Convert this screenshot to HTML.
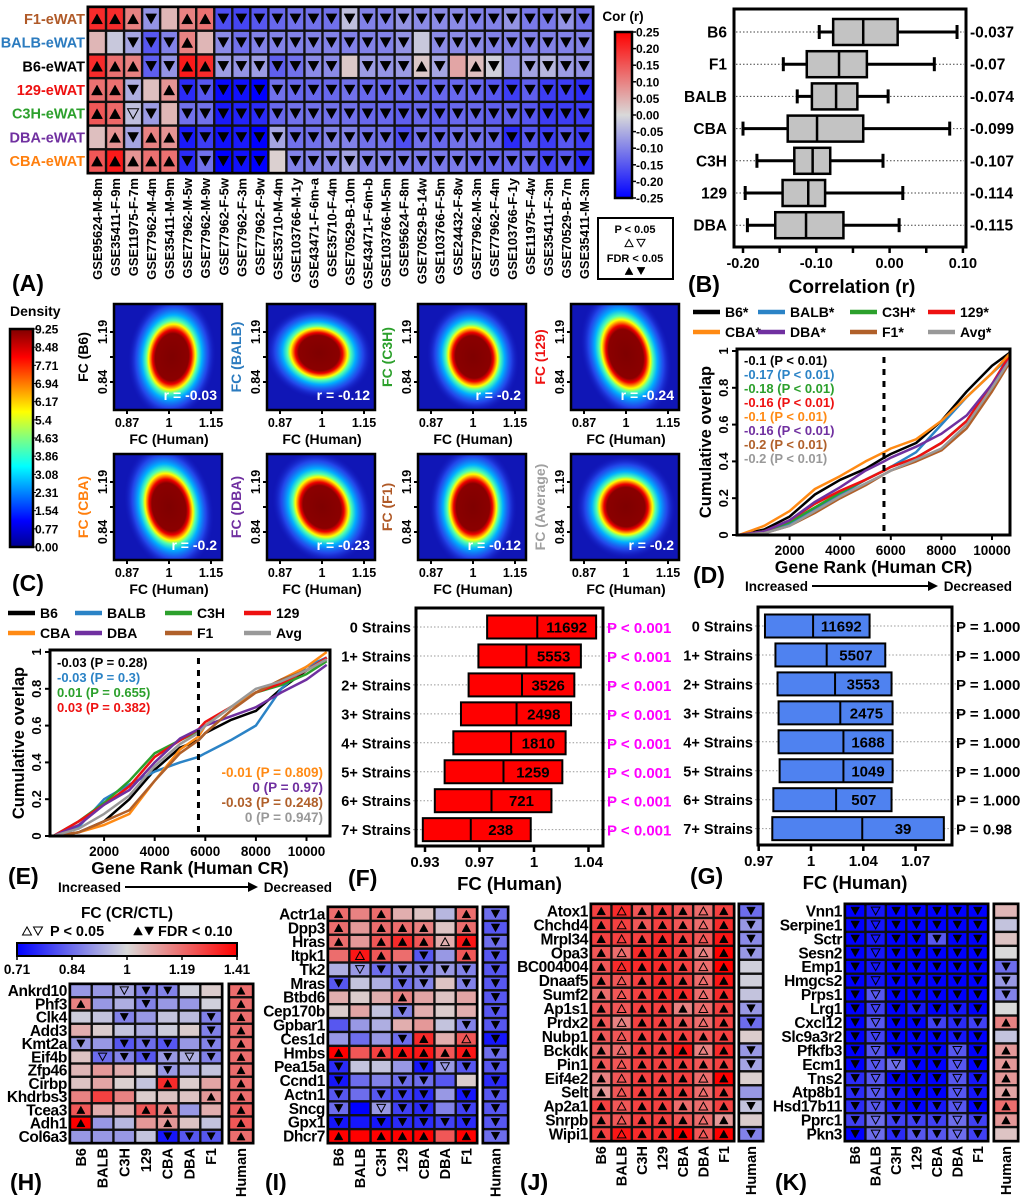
<!DOCTYPE html>
<html><head><meta charset="utf-8"><style>
html,body{margin:0;padding:0;background:#fff}
svg{display:block;font-family:"Liberation Sans",Arial,sans-serif;font-weight:bold}
</style></head><body>
<svg id="fig" width="1020" height="1202" viewBox="0 0 1020 1202" xmlns="http://www.w3.org/2000/svg">
<defs>
<linearGradient id="gCor" x1="0" y1="0" x2="0" y2="1"><stop offset="0" stop-color="#ff0000"/><stop offset="0.5" stop-color="#d9d9d9"/><stop offset="1" stop-color="#0000ff"/></linearGradient>
<linearGradient id="gFC" x1="0" y1="0" x2="1" y2="0"><stop offset="0" stop-color="#0000ff"/><stop offset="0.5" stop-color="#d9d9d9"/><stop offset="1" stop-color="#ff0000"/></linearGradient>
<linearGradient id="gJet" x1="0" y1="1" x2="0" y2="0"><stop offset="0" stop-color="#00008f"/><stop offset="0.12" stop-color="#0000ff"/><stop offset="0.37" stop-color="#00ffff"/><stop offset="0.5" stop-color="#80ff80"/><stop offset="0.62" stop-color="#ffff00"/><stop offset="0.87" stop-color="#ff0000"/><stop offset="1" stop-color="#800000"/></linearGradient>
<radialGradient id="gDen" cx="0.5" cy="0.5" r="0.5"><stop offset="0" stop-color="#7f0000"/><stop offset="0.38" stop-color="#8b0000"/><stop offset="0.44" stop-color="#ee0000"/><stop offset="0.49" stop-color="#ff8c00"/><stop offset="0.53" stop-color="#ffff00"/><stop offset="0.59" stop-color="#50ffb0"/><stop offset="0.68" stop-color="#00b0ff"/><stop offset="0.82" stop-color="#2a5aff" stop-opacity="0.7"/><stop offset="1" stop-color="#1414c0" stop-opacity="0"/></radialGradient>
</defs>
</svg>
<script>
// ---------- DATA ----------
const aRows=["F1-eWAT","BALB-eWAT","B6-eWAT","129-eWAT","C3H-eWAT","DBA-eWAT","CBA-eWAT"];
const aRowColors=["#b05a28","#2b7bbf","#000000","#ee1111","#2ca02c","#7030a0","#ff7f0e"];
const aCols=["GSE95624-M-8m","GSE35411-F-9m","GSE11975-F-7m","GSE77962-M-4m","GSE35411-M-9m","GSE77962-M-5w","GSE77962-M-9w","GSE77962-F-5w","GSE77962-F-3m","GSE77962-F-9w","GSE35710-M-4m","GSE103766-M-1y","GSE43471-F-6m-a","GSE35710-F-4m","GSE70529-B-10m","GSE43471-F-6m-b","GSE103766-M-5m","GSE95624-F-8m","GSE70529-B-14w","GSE103766-F-5m","GSE24432-F-8w","GSE77962-M-3m","GSE77962-F-4m","GSE103766-F-1y","GSE11975-F-4w","GSE35411-F-3m","GSE70529-B-7m","GSE35411-M-3m"];
const aVals=[
[0.2,0.2,0.1,-0.08,0.04,0.1,0.12,-0.16,-0.17,-0.15,-0.13,-0.12,-0.12,-0.12,-0.03,-0.1,-0.1,-0.08,-0.09,-0.09,-0.09,-0.1,-0.1,-0.08,-0.11,-0.11,-0.08,-0.12],
[0.04,-0.02,-0.06,-0.15,-0.1,0.1,0.04,-0.09,-0.12,-0.1,-0.1,-0.1,-0.1,-0.1,-0.1,-0.1,-0.1,-0.08,-0.02,-0.09,-0.09,-0.09,-0.1,-0.1,-0.1,-0.1,-0.1,-0.1],
[0.2,0.12,0.1,-0.14,-0.08,0.22,0.2,-0.07,-0.08,-0.07,-0.14,-0.12,-0.09,-0.09,0.02,-0.07,-0.08,-0.07,0.02,-0.06,0.06,0.03,-0.01,-0.07,-0.06,-0.04,-0.07,-0.08],
[0.12,0.12,-0.05,0.03,0.08,-0.2,-0.15,-0.24,-0.23,-0.25,-0.12,-0.13,-0.13,-0.13,-0.12,-0.13,-0.13,-0.13,-0.13,-0.13,-0.13,-0.13,-0.15,-0.18,-0.14,-0.18,-0.18,-0.2],
[0.15,0.13,-0.03,-0.07,0.04,-0.12,-0.12,-0.22,-0.21,-0.2,-0.13,-0.12,-0.12,-0.12,-0.12,-0.13,-0.13,-0.14,-0.13,-0.14,-0.13,-0.13,-0.14,-0.14,-0.15,-0.18,-0.18,-0.18],
[0.03,0.08,-0.06,0.1,0.08,-0.22,-0.18,-0.23,-0.22,-0.25,-0.06,-0.12,-0.12,-0.1,-0.1,-0.12,-0.12,-0.16,-0.12,-0.13,-0.12,-0.12,-0.13,-0.2,-0.15,-0.18,-0.15,-0.18],
[0.15,0.22,0.08,0.12,0.12,-0.2,-0.12,-0.25,-0.23,-0.25,0.01,-0.1,-0.1,-0.09,-0.06,-0.1,-0.1,-0.11,-0.11,-0.11,-0.11,-0.12,-0.13,-0.13,-0.13,-0.17,-0.15,-0.2]];
const aSig=["2222022222222222222222222222","0022220222222222220222222222","2222222222222202222202202222","2220222222222222222222222222","2212022222222222222222222222","0222222222222222222222222222","2222222222022222222222222222"];
const corTicks=["0.25","0.20","0.15","0.10","0.05","0.00","-0.05","-0.10","-0.15","-0.20","-0.25"];

const bStrains=["B6","F1","BALB","CBA","C3H","129","DBA"];
const bMeans=["-0.037","-0.07","-0.074","-0.099","-0.107","-0.114","-0.115"];
const bWlo=[-0.096,-0.145,-0.126,-0.2,-0.181,-0.197,-0.194];
const bQ1=[-0.077,-0.113,-0.106,-0.139,-0.13,-0.146,-0.156];
const bMed=[-0.036,-0.069,-0.073,-0.099,-0.105,-0.111,-0.114];
const bQ3=[0.011,-0.031,-0.044,-0.036,-0.081,-0.088,-0.063];
const bWhi=[0.092,0.061,-0.002,0.082,-0.009,0.018,0.013];
const bTicks=[-0.2,-0.1,0,0.1];
const bTickLabels=["-0.20","-0.10","0.00","0.10"];

const denNames=["B6","BALB","C3H","129","CBA","DBA","F1","Average"];
const denColors=["#000","#2b7bbf","#2ca02c","#ee1111","#ff7f0e","#7030a0","#b05a28","#a0a0a0"];
const denR=["-0.03","-0.12","-0.2","-0.24","-0.2","-0.23","-0.12","-0.2"];
const denTicks=["9.25","8.48","7.71","6.94","6.17","5.4","4.63","3.86","3.08","2.31","1.54","0.77","0.00"];

const seriesNames=["B6","BALB","C3H","129","CBA","DBA","F1","Avg"];
const seriesColors=["#000000","#2b83c6","#2ca02c","#ee1111","#ff8a14","#7030a0","#b0602a","#999999"];
const ranks=[0,1000,2000,3000,4000,5000,5730,6000,7000,8000,9000,10000,10800];
const dB6=[0,0.03,0.1,0.22,0.3,0.36,0.42,0.44,0.5,0.62,0.78,0.92,1];
const dBALB=[0,0.01,0.06,0.14,0.22,0.3,0.35,0.37,0.45,0.6,0.75,0.88,0.98];
const dC3H=[0,0.02,0.07,0.15,0.23,0.3,0.35,0.37,0.42,0.5,0.62,0.82,0.95];
const d129=[0,0.02,0.08,0.17,0.24,0.3,0.35,0.37,0.42,0.5,0.62,0.82,1];
const dCBA=[0,0.05,0.13,0.25,0.32,0.4,0.45,0.47,0.52,0.62,0.75,0.88,1];
const dDBA=[0,0.02,0.08,0.18,0.26,0.35,0.4,0.42,0.48,0.55,0.65,0.82,0.97];
const dF1=[0,0.01,0.05,0.12,0.2,0.27,0.33,0.35,0.4,0.46,0.58,0.78,0.96];
const dAvg=[0,0.01,0.05,0.13,0.21,0.28,0.33,0.35,0.41,0.47,0.6,0.8,0.97];
const dLabels=["-0.1 (P < 0.01)","-0.17 (P < 0.01)","-0.18 (P < 0.01)","-0.16 (P < 0.01)","-0.1 (P < 0.01)","-0.16 (P < 0.01)","-0.2 (P < 0.01)","-0.2 (P < 0.01)"];
const eB6=[0,0.02,0.08,0.2,0.36,0.48,0.52,0.56,0.63,0.68,0.8,0.9,0.97];
const eBALB=[0,0.05,0.2,0.28,0.35,0.4,0.43,0.45,0.52,0.6,0.8,0.92,0.97];
const eC3H=[0,0.08,0.18,0.3,0.45,0.52,0.57,0.6,0.7,0.78,0.82,0.88,0.95];
const e129=[0,0.08,0.17,0.27,0.43,0.52,0.58,0.62,0.7,0.78,0.83,0.9,0.97];
const eCBA=[0,0.02,0.06,0.12,0.3,0.47,0.54,0.6,0.7,0.78,0.85,0.92,1];
const eDBA=[0,0.06,0.17,0.25,0.4,0.53,0.58,0.6,0.65,0.7,0.78,0.85,0.93];
const eF1=[0,0.02,0.08,0.14,0.3,0.45,0.52,0.56,0.68,0.78,0.85,0.9,0.96];
const eAvg=[0,0.04,0.12,0.22,0.38,0.5,0.56,0.6,0.7,0.8,0.84,0.9,0.96];
const eLabels=["-0.03 (P = 0.28)","-0.03 (P = 0.3)","0.01 (P = 0.655)","0.03 (P = 0.382)","-0.01 (P = 0.809)","0 (P = 0.97)","-0.03 (P = 0.248)","0 (P = 0.947)"];
const cutRank=5730;
const rankTicks=[2000,4000,6000,8000,10000];
const overlapTicks=[0,0.2,0.4,0.6,0.8,1];

const fgRows=["0 Strains","1+ Strains","2+ Strains","3+ Strains","4+ Strains","5+ Strains","6+ Strains","7+ Strains"];
const fLo=[-0.043,-0.051,-0.06,-0.067,-0.074,-0.082,-0.091,-0.102];
const fMed=[0.003,-0.007,-0.011,-0.016,-0.021,-0.028,-0.039,-0.058];
const fHi=[0.057,0.043,0.037,0.034,0.029,0.026,0.016,-0.003];
const fN=["11692","5553","3526","2498","1810","1259","721","238"];
const fP=["P < 0.001","P < 0.001","P < 0.001","P < 0.001","P < 0.001","P < 0.001","P < 0.001","P < 0.001"];
const fTicks=[-0.1,-0.05,0,0.05];
const fTickLabels=["0.93","0.97","1","1.04"];
const gLo=[-0.044,-0.034,-0.032,-0.031,-0.031,-0.03,-0.036,-0.037];
const gMed=[0.002,0.015,0.023,0.028,0.031,0.031,0.024,0.049];
const gHi=[0.056,0.071,0.077,0.078,0.078,0.078,0.077,0.127];
const gN=["11692","5507","3553","2475","1688","1049","507","39"];
const gP=["P = 1.000","P = 1.000","P = 1.000","P = 1.000","P = 1.000","P = 1.000","P = 1.000","P = 0.98"];
const gTicks=[-0.05,0,0.05,0.1];
const gTickLabels=["0.97","1","1.04","1.07"];

const strainCols=["B6","BALB","C3H","129","CBA","DBA","F1"];
const hGenes=["Ankrd10","Phf3","Clk4","Add3","Kmt2a","Eif4b","Zfp46","Cirbp","Khdrbs3","Tcea3","Adh1","Col6a3"];
const hVals=[[-0.15,-0.15,-0.12,-0.2,-0.2,-0.02,0.03],[0.2,-0.15,-0.1,-0.2,-0.15,-0.15,-0.02],[-0.03,-0.05,-0.2,-0.15,-0.05,-0.07,-0.2],[0.1,0.03,-0.05,-0.1,-0.03,0.03,-0.2],[-0.15,-0.15,-0.3,-0.25,-0.3,-0.15,-0.2],[0.05,-0.25,-0.2,-0.3,-0.15,-0.1,-0.2],[0.08,0.15,0.1,0.02,-0.15,-0.1,-0.05],[0.05,0.12,0.02,-0.05,0.4,0.03,0.12],[0.2,0.35,0.2,0.03,0.05,0.05,0.15],[0.3,0.1,0.1,0.3,0.2,-0.15,0.1],[0.5,-0.15,-0.08,0.15,0.15,0.05,-0.05],[-0.15,-0.15,-0.15,-0.05,-0.45,-0.3,-0.3]];
const hSig=["0012200","2002000","0020002","0000002","2022202","0122212","0000200","0000200","0000002","2002200","2000200","0000222"];
const hHuman=[0.25,0.25,0.25,0.25,0.25,0.25,0.25,0.25,0.25,0.28,0.3,0.25];
const hHumanSig="222222222222";
const iGenes=["Actr1a","Dpp3","Hras","Itpk1","Tk2","Mras","Btbd6","Cep170b","Gpbar1","Ces1d","Hmbs","Pea15a","Ccnd1","Actn1","Sncg","Gpx1","Dhcr7"];
const iVals=[[0.25,0.2,0.25,0.1,0.05,-0.08,0.25],[0.25,0.15,0.25,0.25,0.2,0.05,0.25],[0.25,0.15,0.3,0.4,0.3,0.1,0.45],[0.25,0.45,0.3,0.25,-0.3,-0.15,0.3],[-0.1,-0.15,-0.25,-0.2,-0.2,-0.15,-0.2],[-0.3,-0.05,-0.1,-0.25,-0.2,0.05,-0.2],[0.1,0.03,0.1,0.2,0.12,0.05,0.12],[0.03,0.12,-0.05,-0.2,0.1,0.03,0.1],[-0.3,-0.15,-0.1,0.1,0.15,-0.05,-0.2],[-0.15,-0.25,-0.15,-0.25,0.4,0.1,0.3],[0.5,0.3,0.35,0.45,0.45,0.3,0.45],[-0.4,-0.05,-0.05,-0.15,-0.45,-0.15,-0.3],[-0.45,-0.25,-0.2,-0.25,-0.25,-0.3,0.03],[-0.3,-0.25,-0.3,-0.35,-0.4,-0.15,-0.45],[-0.25,-0.5,-0.15,-0.35,-0.4,-0.2,-0.35],[-0.45,-0.45,-0.45,-0.4,-0.4,-0.35,-0.4],[0.5,0.5,0.5,0.5,0.5,0.3,0.5]];
const iSig=["2020002","2022202","2022212","0120202","0122222","2002202","0002000","0002000","0000002","0002201","2022222","2000212","2002200","2022202","2012202","2022222","2022202"];
const iHuman=[-0.25,-0.3,-0.25,-0.3,-0.3,-0.3,-0.3,-0.3,-0.3,-0.45,-0.25,-0.3,-0.4,-0.3,-0.3,-0.3,-0.25];
const iHumanSig="22222222222222222";
const jGenes=["Atox1","Chchd4","Mrpl34","Opa3","BC004004","Dnaaf5","Sumf2","Ap1s1","Prdx2","Nubp1","Bckdk","Pin1","Eif4e2","Selt","Ap2a1","Snrpb","Wipi1"];
const jVals=[[0.35,0.4,0.3,0.35,0.3,0.25,0.35],[0.35,0.35,0.3,0.35,0.3,0.25,0.4],[0.35,0.35,0.35,0.4,0.35,0.3,0.45],[0.3,0.25,0.4,0.4,0.35,0.2,0.5],[0.3,0.4,0.4,0.4,0.35,0.25,0.5],[0.3,0.3,0.35,0.4,0.35,0.25,0.45],[0.25,0.3,0.35,0.4,0.4,0.25,0.4],[0.3,0.3,0.35,0.35,0.2,0.25,0.35],[0.3,0.2,0.35,0.35,0.3,0.25,0.35],[0.3,0.3,0.35,0.35,0.35,0.3,0.35],[0.25,0.25,0.35,0.35,0.45,0.2,0.4],[0.3,0.3,0.35,0.35,0.35,0.3,0.35],[0.2,0.3,0.35,0.35,0.35,0.25,0.5],[0.15,0.3,0.35,0.35,0.35,0.25,0.35],[0.35,0.3,0.35,0.35,0.25,0.25,0.35],[0.3,0.3,0.35,0.35,0.3,0.25,0.15],[0.35,0.45,0.4,0.4,0.5,0.3,0.5]];
const jSig=["2122212","2122212","2122212","2122212","2122212","2122212","2122212","2122212","2122212","2122222","2122212","2122222","2122212","2122212","2122212","2122212","2122212"];
const jHuman=[-0.25,-0.15,-0.18,-0.15,-0.02,-0.02,-0.05,-0.15,-0.25,0.03,-0.15,-0.12,0.02,-0.15,-0.05,0.03,-0.2];
const jHumanSig="22220002202200202";
const kGenes=["Vnn1","Serpine1","Sctr","Sesn2","Emp1","Hmgcs2","Prps1","Lrg1","Cxcl12","Slc9a3r2","Pfkfb3","Ecm1","Tns2","Atp8b1","Hsd17b11","Pprc1","Pkn3"];
const kVals=[[-0.5,-0.45,-0.5,-0.5,-0.5,-0.5,-0.5],[-0.5,-0.45,-0.5,-0.5,-0.5,-0.5,-0.5],[-0.5,-0.45,-0.5,-0.5,-0.3,-0.5,-0.5],[-0.5,-0.45,-0.5,-0.5,-0.5,-0.5,-0.5],[-0.5,-0.45,-0.5,-0.5,-0.5,-0.5,-0.5],[-0.5,-0.45,-0.5,-0.5,-0.5,-0.5,-0.5],[-0.5,-0.3,-0.5,-0.5,-0.5,-0.5,-0.5],[-0.5,-0.35,-0.5,-0.45,-0.5,-0.45,-0.5],[-0.5,-0.3,-0.5,-0.5,-0.35,-0.4,-0.35],[-0.5,-0.35,-0.5,-0.5,-0.5,-0.45,-0.5],[-0.5,-0.3,-0.5,-0.5,-0.5,-0.3,-0.5],[-0.5,-0.3,-0.25,-0.5,-0.5,-0.3,-0.5],[-0.4,-0.3,-0.5,-0.5,-0.5,-0.3,-0.45],[-0.4,-0.3,-0.45,-0.5,-0.5,-0.3,-0.45],[-0.4,-0.3,-0.45,-0.5,-0.45,-0.3,-0.5],[-0.35,-0.25,-0.35,-0.35,-0.35,-0.25,-0.35],[-0.5,-0.25,-0.4,-0.3,-0.3,-0.25,-0.35]];
const kSig=["2122222","2122222","2122222","2122222","2122222","2122222","2122222","2122222","2122222","2122222","2122212","2112212","2122212","2122212","2122212","2122212","2122212"];
const kHuman=[0.08,-0.05,0.05,0,-0.25,-0.15,-0.2,0,0.2,-0.05,0.15,0.15,0.15,0.12,0.25,0.15,0.05];
const kHumanSig="00002220202222220";
const fcTicks=["0.71","0.84","1","1.19","1.41"];

// ---------- HELPERS ----------
const NS="http://www.w3.org/2000/svg";
const svg=document.getElementById('fig');
function mk(tag,attrs,parent){const e=document.createElementNS(NS,tag);for(const k in attrs)e.setAttribute(k,attrs[k]);(parent||svg).appendChild(e);return e;}
function txt(s,x,y,size,attrs,parent){const e=mk('text',Object.assign({x:x,y:y,'font-size':size},attrs||{}),parent);e.textContent=s;return e;}
function grp(name){const g=mk('g',{});return g;}
function divColor(v,lim){let t=Math.max(-1,Math.min(1,v/lim));const g=[217,217,217];let c;
 if(t<0){t=-t;c=[g[0]*(1-t),g[1]*(1-t),g[2]*(1-t)+255*t];}else{c=[g[0]*(1-t)+255*t,g[1]*(1-t),g[2]*(1-t)];}
 return 'rgb('+c.map(Math.round).join(',')+')';}
function tri(cx,cy,s,up,filled,parent){const h=s*0.9;const pts=up?[[cx-s/2,cy+h/2],[cx+s/2,cy+h/2],[cx,cy-h/2]]:[[cx-s/2,cy-h/2],[cx+s/2,cy-h/2],[cx,cy+h/2]];
 return mk('polygon',{points:pts.map(p=>p.join(',')).join(' '),fill:filled?'#000':'none',stroke:'#000','stroke-width':filled?0.5:1},parent);}
function heat(name,x0,y0,cw,ch,vals,sigs,lim,triS){const g=grp(name);
 mk('rect',{x:x0,y:y0,width:cw*vals[0].length,height:ch*vals.length,fill:'#111',stroke:'#000','stroke-width':3},g);
 vals.forEach((row,r)=>row.forEach((v,c)=>{const cell=mk('rect',{x:x0+c*cw+1.2,y:y0+r*ch+1.2,width:cw-2.4,height:ch-2.4,fill:divColor(v,lim)},g);
  
  
  const s=sigs[r][c];if(s!=='0'){tri(x0+c*cw+cw/2,y0+r*ch+ch/2,triS,v>0,s==='2',g);}}));
 return g;}

// ---------- PANEL A ----------
(function(){const g=grp('panel-a-heatmap');const x0=88,y0=7,cw=(593-88)/28,ch=(173-7)/7;
 heat('correlation-heatmap',x0,y0,cw,ch,aVals,aSig,0.25,11);
 aRows.forEach((r,i)=>{const t=txt(r,85,y0+i*ch+ch/2+5,14.5,{'text-anchor':'end',fill:aRowColors[i]},g);});
 aCols.forEach((c,i)=>{const x=x0+i*cw+cw/2+5;const t=txt(c,x,178,13,{'text-anchor':'end',transform:'rotate(-90 '+x+' 178)'},g);});
 txt('(A)',12,291,23,{},g);
 const cb=grp('cor-colorbar');mk('rect',{x:615,y:32,width:17,height:166,fill:'url(#gCor)',stroke:'#000','stroke-width':2.5},cb);
 txt('Cor (r)',623,21,13.5,{'text-anchor':'middle'},cb);
 corTicks.forEach((t,i)=>{const y=32+i*16.6;mk('line',{x1:632,x2:636,y1:y,y2:y,stroke:'#000','stroke-width':1.5},cb);txt(t,636,y+4.5,12,{},cb);});
 const lg=grp('significance-legend');mk('rect',{x:598,y:218,width:75,height:61,fill:'#fff',stroke:'#000','stroke-width':2},lg);
 txt('P < 0.05',635,233,11,{'text-anchor':'middle'},lg);tri(629,243,8,true,false,lg);tri(641,243,8,false,false,lg);
 txt('FDR < 0.05',635,262,11,{'text-anchor':'middle'},lg);tri(629,271,8,true,true,lg);tri(641,271,8,false,true,lg);
})();

// ---------- PANEL B ----------
(function(){const g=grp('panel-b-boxplot');const X=v=>743+(v+0.2)*733;const Y=i=>32+i*32.2;
 bStrains.forEach((s,i)=>{mk('line',{x1:736,x2:964,y1:Y(i),y2:Y(i),stroke:'#444','stroke-width':1,'stroke-dasharray':'1.5,2'},g);});
 bStrains.forEach((s,i)=>{const y=Y(i);const b=grp('box-'+s.toLowerCase());
  mk('line',{x1:X(bWlo[i]),x2:X(bWhi[i]),y1:y,y2:y,stroke:'#000','stroke-width':3},b);
  mk('line',{x1:X(bWlo[i]),x2:X(bWlo[i]),y1:y-7,y2:y+7,stroke:'#000','stroke-width':3},b);
  mk('line',{x1:X(bWhi[i]),x2:X(bWhi[i]),y1:y-7,y2:y+7,stroke:'#000','stroke-width':3},b);
  mk('rect',{x:X(bQ1[i]),y:y-13,width:X(bQ3[i])-X(bQ1[i]),height:26,fill:'#c3c3c3',stroke:'#000','stroke-width':2.5},b);
  mk('line',{x1:X(bMed[i]),x2:X(bMed[i]),y1:y-13,y2:y+13,stroke:'#000','stroke-width':2.5},b);
  txt(s,727,y+5.5,15.5,{'text-anchor':'end'},g);txt(bMeans[i],970,y+5.5,15.5,{},g);});
 mk('rect',{x:734,y:9,width:232,height:238,fill:'none',stroke:'#000','stroke-width':3},g);
 for(let v=-0.2;v<=0.1001;v+=0.05){mk('line',{x1:X(v),x2:X(v),y1:247,y2:253,stroke:'#000','stroke-width':2.5},g);}
 bTicks.forEach((v,i)=>txt(bTickLabels[i],X(v),268,14.5,{'text-anchor':'middle'},g));
 txt('Correlation (r)',852,293,19,{'text-anchor':'middle'},g);txt('(B)',688,292,23,{},g);
})();

// ---------- PANEL C ----------
(function(){const g=grp('panel-c-density');
 mk('rect',{x:10,y:329,width:23,height:218,fill:'url(#gJet)',stroke:'#000','stroke-width':2.5},g);
 txt('Density',10,316,14,{},g);
 denTicks.forEach((t,i)=>{const y=329+i*218/12;mk('line',{x1:33,x2:36,y1:y,y2:y,stroke:'#000'},g);txt(t,35,y+4.5,12,{},g);});
 txt('(C)',12,591,23,{},g);
 const shapes=[[44,62,5,3,0],[54,46,10,-3,-4],[46,56,-10,0,0],[44,66,-15,0,-3],[44,64,-12,0,0],[48,58,-25,0,0],[44,62,0,0,0],[50,52,-10,0,0]];
 denNames.forEach((n,i)=>{const c=i%4,r=Math.floor(i/4);const x0=[114,267,418,571][c],y0=[304,454][r];const pg=grp('density-plot-'+n.toLowerCase());
  const cp=mk('clipPath',{id:'cp'+i},pg);mk('rect',{x:x0,y:y0,width:108,height:106},cp);
  mk('rect',{x:x0,y:y0,width:108,height:106,fill:'#1016b6'},pg);
  const s=shapes[i];const cx=x0+55+s[3],cy=y0+53+s[4];
  const eg=mk('g',{'clip-path':'url(#cp'+i+')'},pg);
  mk('ellipse',{cx:cx,cy:cy,rx:s[0],ry:s[1],fill:'url(#gDen)',transform:'rotate('+s[2]+' '+cx+' '+cy+')'},eg);
  mk('rect',{x:x0,y:y0,width:108,height:106,fill:'none',stroke:'#000','stroke-width':2.5},pg);
  txt('r = '+denR[i],x0+103,y0+96,14,{'text-anchor':'end',fill:'#fff'},pg);
  [[-0.2,'0.87'],[0,'1'],[0.2,'1.15']].forEach(t=>{const x=x0+55+t[0]*210;mk('line',{x1:x,x2:x,y1:y0+106,y2:y0+110,stroke:'#000','stroke-width':2},pg);txt(t[1],x,y0+123,12.5,{'text-anchor':'middle'},pg);});
  [[0.25,'1.19'],[0,''],[-0.25,'0.84']].forEach(t=>{const y=y0+53-t[0]*100;mk('line',{x1:x0-4,x2:x0,y1:y,y2:y,stroke:'#000','stroke-width':2},pg);if(t[1])txt(t[1],x0-7,y,12.5,{'text-anchor':'middle',transform:'rotate(-90 '+(x0-7)+' '+y+')'},pg);});
  txt('FC (Human)',x0+55,y0+140,14,{'text-anchor':'middle'},pg);
  const lx=x0-26,ly=y0+53;txt('FC ('+n+')',lx,ly,14,{'text-anchor':'middle',fill:denColors[i],transform:'rotate(-90 '+lx+' '+ly+')'},pg);});
})();

// ---------- CUMULATIVE PANELS D/E ----------
function cumPanel(name,fx0,fy0,fx1,fy1,x0rank,pxPerRank,series,labels,split,legendY,legendX,star,letter,letterX){
 const g=grp(name);const X=r=>x0rank+r*pxPerRank;const Y=v=>fy1-v*(fy1-fy0-2);
 seriesNames.forEach((s,i)=>{const lx=legendX[i%4],ly=legendY[Math.floor(i/4)];const le=grp('legend-entry-'+s.toLowerCase());
  mk('line',{x1:lx,x2:lx+27,y1:ly,y2:ly,stroke:seriesColors[i],'stroke-width':4.5},le);txt(s+(star?'*':''),lx+32,ly+5,14,{},le);});
 const cp=mk('clipPath',{id:'cp'+name},g);mk('rect',{x:fx0,y:fy0,width:fx1-fx0,height:fy1-fy0},cp);
 series.forEach((d,i)=>{const p=mk('polyline',{points:d.map((v,k)=>X(ranks[k]).toFixed(1)+','+Y(v).toFixed(1)).join(' '),fill:'none',stroke:seriesColors[i],'stroke-width':2.5,'stroke-linejoin':'round','clip-path':'url(#cp'+name+')'},g);
  
  });
 mk('line',{x1:X(cutRank),x2:X(cutRank),y1:fy0+8,y2:fy1,stroke:'#000','stroke-width':3,'stroke-dasharray':'6,6'},g);
 mk('rect',{x:fx0,y:fy0,width:fx1-fx0,height:fy1-fy0,fill:'none',stroke:'#000','stroke-width':3},g);
 rankTicks.forEach(r=>{mk('line',{x1:X(r),x2:X(r),y1:fy1,y2:fy1+5,stroke:'#000','stroke-width':2},g);txt(String(r),X(r),fy1+20,13.5,{'text-anchor':'middle'},g);});
 overlapTicks.forEach(v=>{const y=Y(v);mk('line',{x1:fx0-5,x2:fx0,y1:y,y2:y,stroke:'#000','stroke-width':2},g);txt(String(v),fx0-9,y,13,{'text-anchor':'middle',transform:'rotate(-90 '+(fx0-9)+' '+y+')'},g);});
 const my=(fy0+fy1)/2;txt('Cumulative overlap',fx0-26,my,16.5,{'text-anchor':'middle',transform:'rotate(-90 '+(fx0-26)+' '+my+')'},g);
 const cx=(fx0+fx1)/2;txt('Gene Rank (Human CR)',cx,fy1+38,17.5,{'text-anchor':'middle'},g);
 txt('Increased',fx0+8,fy1+56,13.5,{},g);mk('line',{x1:fx0+75,x2:fx1-82,y1:fy1+51,y2:fy1+51,stroke:'#000','stroke-width':2},g);
 mk('polygon',{points:(fx1-82)+','+(fy1+46)+' '+(fx1-72)+','+(fy1+51)+' '+(fx1-82)+','+(fy1+56),fill:'#000'},g);
 txt('Decreased',fx1+2,fy1+56,13.5,{'text-anchor':'end'},g);
 txt('('+letter+')',letterX,fy1+48,23,{},g);
 labels.forEach((l,i)=>{if(split&&i>=4){txt(l,fx1-7,fy0+127+(i-4)*15,13.5,{'text-anchor':'end',fill:seriesColors[i]},g);}else{txt(l,fx0+7,fy0+(split?17:16)+i*(split?15:14),13,{fill:seriesColors[i]},g);}});
}
cumPanel('panel-d-cumulative',737,349,1010,535,739,0.02530,[dB6,dBALB,dC3H,d129,dCBA,dDBA,dF1,dAvg],dLabels,false,[312,332],[693,758,850,928],true,'D',693);
cumPanel('panel-e-cumulative',50,650,330,836,53.5,0.02530,[eB6,eBALB,eC3H,e129,eCBA,eDBA,eF1,eAvg],eLabels,true,[613,633],[8,75,165,244],false,'E',8);

// ---------- BAR PANELS F/G ----------
function barPanel(name,fx0,fy0,fx1,fy1,xc,k,lo,med,hi,ns,ps,ticks,tl,fill,pColor,letter,lx,ly,labelX){
 const g=grp(name);const X=v=>xc+v*k;const Y=i=>fy0+19+i*28.95;
 fgRows.forEach((r,i)=>{const y=Y(i);
  mk('line',{x1:fx0-10,x2:X(lo[i]),y1:y,y2:y,stroke:'#999','stroke-width':1,'stroke-dasharray':'1.5,2'},g);
  mk('line',{x1:X(hi[i]),x2:fx1+12,y1:y,y2:y,stroke:'#999','stroke-width':1,'stroke-dasharray':'1.5,2'},g);
  const b=mk('rect',{x:X(lo[i]),y:y-11.5,width:X(hi[i])-X(lo[i]),height:23,fill:fill,stroke:'#000','stroke-width':2},g);
  
  
  mk('line',{x1:X(med[i]),x2:X(med[i]),y1:y-11.5,y2:y+11.5,stroke:'#000','stroke-width':2},g);
  txt(ns[i],(X(med[i])+X(hi[i]))/2,y+5.5,15,{'text-anchor':'middle'},g);
  txt(r,labelX,y+5.5,14.5,{'text-anchor':'end','fill':'#000',stroke:'#fff','stroke-width':3,'paint-order':'stroke'},g);
  txt(ps[i],fx1+4,y+6,15,{fill:pColor},g);});
 mk('rect',{x:fx0,y:fy0,width:fx1-fx0,height:fy1-fy0,fill:'none',stroke:'#000','stroke-width':3},g);
 ticks.forEach((v,i)=>{mk('line',{x1:X(v),x2:X(v),y1:fy1,y2:fy1+6,stroke:'#000','stroke-width':2.5},g);txt(tl[i],X(v),fy1+21,15,{'text-anchor':'middle'},g);});
 txt('FC (Human)',(fx0+fx1)/2,fy1+44,18.5,{'text-anchor':'middle'},g);txt('('+letter+')',lx,ly,23,{},g);
}
barPanel('panel-f-bars',416,608,603,846,534,1090,fLo,fMed,fHi,fN,fP,fTicks,fTickLabels,'#ff0000','#ff00ff','F',348,886,411);
barPanel('panel-g-bars',758,607,952,845,811,1046,gLo,gMed,gHi,gN,gP,gTicks,gTickLabels,'#4f82f0','#000','G',690,884,753);

// ---------- PANELS H-K ----------
(function(){const g=grp('fc-colorbar');
 txt('FC (CR/CTL)',127,918,15.5,{'text-anchor':'middle'},g);
 tri(27,931,9,true,false,g);tri(38,931,9,false,false,g);txt('P < 0.05',50,936,14.5,{},g);
 tri(138,931,9,true,true,g);tri(149,931,9,false,true,g);txt('FDR < 0.10',158,936,14.5,{},g);
 mk('rect',{x:17,y:943,width:220,height:13,fill:'url(#gFC)',stroke:'#000','stroke-width':2},g);
 fcTicks.forEach((t,i)=>{const x=17+i*55;mk('line',{x1:x,x2:x,y1:956,y2:960,stroke:'#000','stroke-width':1.5},g);txt(t,x,974,13.5,{'text-anchor':'middle'},g);});
})();
function genePanel(name,x0,y0,x1,y1,hx0,hx1,genes,vals,sigs,hum,humSig,letter,lx){
 const g=grp(name);const cw=(x1-x0)/7,ch=(y1-y0)/genes.length;
 heat(name+'-mouse',x0,y0,cw,ch,vals,sigs,0.5,Math.min(cw,ch)*0.62);
 heat(name+'-human',hx0,y0,hx1-hx0,ch,hum.map(v=>[v]),humSig.split(''),0.5,Math.min(cw,ch)*0.62);
 genes.forEach((n,i)=>{const t=txt(n,x0-3,y0+i*ch+ch/2+5.5,15.5,{'text-anchor':'end','letter-spacing':'-0.4'},g);});
 strainCols.concat(['Human']).forEach((s,i)=>{const x=i<7?x0+i*cw+cw/2+5:(hx0+hx1)/2+5;const y=y1+5;txt(s,x,y,14.5,{'text-anchor':'end',transform:'rotate(-90 '+x+' '+y+')'},g);});
 txt('('+letter+')',lx,1190,23,{},g);
}
genePanel('panel-h-genes',70,984,222,1143,229,253,hGenes,hVals,hSig,hHuman,hHumanSig,'H',10);
genePanel('panel-i-genes',328,907,477,1143,483,508,iGenes,iVals,iSig,iHuman,iHumanSig,'I',265);
genePanel('panel-j-genes',591,904,734,1141,739,763,jGenes,jVals,jSig,jHuman,jHumanSig,'J',520);
genePanel('panel-k-genes',845,904,988,1141,994,1018,kGenes,kVals,kSig,kHuman,kHumanSig,'K',775);
</script>
</body></html>
